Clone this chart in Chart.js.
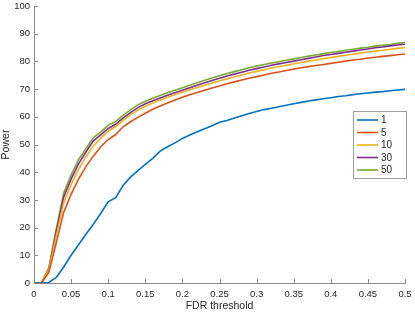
<!DOCTYPE html>
<html lang="en">
<head>
  <meta charset="UTF-8">
  <title>Power vs FDR threshold</title>
  <script src="https://cdn.jsdelivr.net/npm/chart.js"></script>
  <style>
    html, body {margin:0;padding:0;background:#fff}
    #wrap {width:415px;height:312px;position:relative}
  </style>
</head>
<body>
<div id="wrap"><canvas id="powerChart" width="415" height="312"></canvas></div>

<script>
// FDR threshold grid (x)
const fdr = [0,0.01,0.02,0.03,0.04,0.05,0.06,0.07,0.08,0.09,
  0.10,0.11,0.12,0.13,0.14,0.15,0.16,0.17,0.18,0.19,
  0.20,0.21,0.22,0.23,0.24,0.25,0.26,0.27,0.28,0.29,
  0.30,0.31,0.32,0.33,0.34,0.35,0.36,0.37,0.38,0.39,
  0.40,0.41,0.42,0.43,0.44,0.45,0.46,0.47,0.48,0.49,0.50];

const seriesNames = ['1', '5', '10', '30', '50'];

const power1 = [0,0,0.2,2,5.8,10,13.8,17.6,21.2,25.2,
  29.3,30.8,35.2,38.2,40.6,42.8,45.0,47.6,49.2,50.6,
  52.2,53.4,54.6,55.7,56.8,58.0,58.7,59.6,60.4,61.2,
  61.9,62.6,63.1,63.6,64.2,64.7,65.2,65.7,66.1,66.5,
  66.9,67.3,67.6,68.0,68.3,68.6,68.9,69.1,69.4,69.7,69.9];

const power5 = [0,0,3.8,14.5,25.5,32,37.5,42,45.8,49.2,
  51.8,53.6,56.4,58.2,59.8,61.3,62.7,63.9,65.0,66.1,
  67.1,68.0,68.8,69.6,70.4,71.1,71.9,72.6,73.3,73.9,
  74.5,75.1,75.7,76.2,76.7,77.2,77.7,78.1,78.5,78.9,
  79.3,79.7,80.1,80.5,80.8,81.2,81.5,81.8,82.1,82.4,82.7];

const power10 = [0,0,4.8,17,29,35.5,41,45.5,49.5,52.3,
  54.8,56.5,58.6,60.7,62.4,63.8,65.0,66.1,67.1,68.0,
  68.9,69.8,70.6,71.4,72.2,73.0,73.7,74.4,75.1,75.8,
  76.4,77.0,77.6,78.1,78.6,79.1,79.6,80.1,80.5,81.0,
  81.4,81.8,82.2,82.6,83.0,83.4,83.7,84.0,84.4,84.7,85.0];

const power30 = [0,0,5,18.5,31,37.5,43,47.3,51.3,53.5,
  55.8,57.3,59.5,61.5,63.3,64.7,65.8,66.8,67.8,68.7,
  69.6,70.5,71.4,72.3,73.1,73.9,74.7,75.4,76.1,76.8,
  77.4,78.0,78.6,79.1,79.6,80.1,80.6,81.1,81.6,82.1,
  82.5,82.9,83.3,83.7,84.1,84.5,84.9,85.2,85.6,85.9,86.2];

const power50 = [0,0,5.4,19.5,32.5,39,44.5,48.5,52.5,54.5,
  57,58.3,60.5,62.5,64.3,65.6,66.7,67.7,68.7,69.6,
  70.5,71.4,72.3,73.2,74.0,74.8,75.6,76.3,77.0,77.7,
  78.3,78.9,79.4,79.9,80.4,80.9,81.4,81.9,82.3,82.8,
  83.2,83.6,84.0,84.4,84.8,85.1,85.5,85.8,86.1,86.5,86.8];

const xTicks = [0,0.05,0.1,0.15,0.2,0.25,0.3,0.35,0.4,0.45,0.5];
const xTickLabels = ['0','0.05','0.1','0.15','0.2','0.25','0.3','0.35','0.4','0.45','0.5'];
const yTicks = [0,10,20,30,40,50,60,70,80,90,100];

// MATLAB default colour order
const colors = ['#0072BD','#D95319','#EDB120','#7E2F8E','#77AC30'];
const allPower = [power1, power5, power10, power30, power50];

const FONT = '"Liberation Sans", Arial, Helvetica, sans-serif';
const AXIS = '#8a8a8a';
const TEXT = '#262626';

// inward tick marks on left and bottom axes
const tickMarks = {
  id: 'tickMarks',
  afterDatasetsDraw(chart) {
    const {ctx, chartArea: a, scales: {x, y}} = chart;
    ctx.save();
    ctx.strokeStyle = AXIS;
    ctx.lineWidth = 1;
    ctx.beginPath();
    xTicks.forEach(v => {
      const px = Math.round(x.getPixelForValue(v)) + 0.5;
      ctx.moveTo(px, a.bottom);
      ctx.lineTo(px, a.bottom - 4);
    });
    yTicks.forEach(v => {
      const py = Math.round(y.getPixelForValue(v)) + 0.5;
      ctx.moveTo(a.left, py);
      ctx.lineTo(a.left + 4, py);
    });
    ctx.stroke();
    ctx.restore();
  }
};

// boxed legend inside the axes, like MATLAB's
const boxLegend = {
  id: 'boxLegend',
  afterDraw(chart) {
    const {ctx} = chart;
    const left = 353.5, top = 111.5, w = 53, h = 67;
    ctx.save();
    ctx.fillStyle = '#fff';
    ctx.fillRect(left, top, w, h);
    ctx.strokeStyle = '#a0a0a0';
    ctx.lineWidth = 1;
    ctx.strokeRect(left, top, w, h);
    ctx.font = '10px ' + FONT;
    ctx.textBaseline = 'middle';
    ctx.textAlign = 'left';
    chart.data.datasets.forEach((ds, i) => {
      const cy = top + 8.5 + i * 12.5;
      ctx.strokeStyle = ds.borderColor;
      ctx.lineWidth = 1.6;
      ctx.beginPath();
      ctx.moveTo(357, cy);
      ctx.lineTo(378, cy);
      ctx.stroke();
      ctx.fillStyle = TEXT;
      ctx.fillText(ds.label, 381, cy + 0.5);
    });
    ctx.restore();
  }
};

const datasets = seriesNames.map((name, i) => ({
  label: name,
  data: fdr.map((f, j) => ({x: f, y: allPower[i][j]})),
  borderColor: colors[i],
  backgroundColor: colors[i],
  borderWidth: 1.6,
  pointRadius: 0,
  tension: 0,
  fill: false
}));

const ctx = document.getElementById('powerChart').getContext('2d');
const chart = new Chart(ctx, {
  type: 'line',
  data: { datasets },
  options: {
    responsive: false,
    animation: false,
    devicePixelRatio: 1,
    layout: { padding: { top: 6, right: 10, left: 0, bottom: 0 } },
    plugins: { legend: { display: false }, tooltip: { enabled: false } },
    scales: {
      x: {
        type: 'linear',
        min: 0, max: 0.5,
        afterBuildTicks: s => { s.ticks = xTicks.map(v => ({value: v})); },
        afterFit: s => { s.height = 29; s.paddingLeft = 0; s.paddingRight = 0; },
        grid: { display: false, drawTicks: false },
        border: { display: true, color: AXIS, width: 1 },
        ticks: {
          padding: 6,
          color: TEXT,
          font: { family: FONT, size: 9.5 },
          maxRotation: 0,
          callback: (v) => xTickLabels[xTicks.indexOf(v)] ?? ''
        },
        title: {
          display: true,
          text: 'FDR threshold',
          color: TEXT,
          font: { family: FONT, size: 10.5 },
          padding: { top: 0, bottom: 0 }
        }
      },
      y: {
        min: 0, max: 100,
        afterBuildTicks: s => { s.ticks = yTicks.map(v => ({value: v})); },
        afterFit: s => { s.width = 34; s.paddingTop = 0; s.paddingBottom = 0; },
        grid: { display: false, drawTicks: false },
        border: { display: true, color: AXIS, width: 1 },
        ticks: {
          padding: 4,
          color: TEXT,
          font: { family: FONT, size: 9.5 }
        },
        title: {
          display: true,
          text: 'Power',
          color: TEXT,
          font: { family: FONT, size: 10.5 },
          padding: { top: 0, bottom: 0 }
        }
      }
    }
  },
  plugins: [tickMarks, boxLegend]
});
</script>
</body>
</html>
